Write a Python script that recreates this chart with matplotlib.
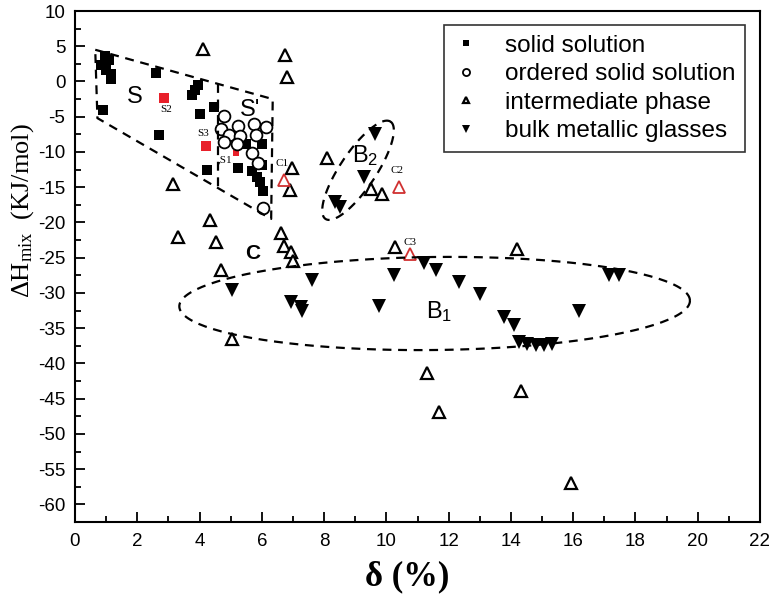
import numpy as np
import matplotlib
matplotlib.use("Agg")
import matplotlib.pyplot as plt

plt.rcParams['font.family'] = ['Liberation Sans', 'DejaVu Sans']
plt.rcParams['axes.unicode_minus'] = False
plt.rcParams['mathtext.fontset'] = 'custom'
plt.rcParams['mathtext.rm'] = 'Liberation Serif'
plt.rcParams['mathtext.it'] = 'Liberation Serif:italic'
plt.rcParams['mathtext.sf'] = 'Liberation Sans'

# ---- data ----
ss_x = [0.95, 1.1, 0.85, 1.0, 1.15, 1.15, 0.9, 2.6, 2.7, 3.75, 3.85, 3.95, 4.0, 4.45,
        4.25, 5.25, 5.5, 6.0, 5.7, 5.85, 6.0, 5.95, 6.05]
ss_y = [3.6, 3.0, 2.4, 1.7, 1.0, 0.3, -4.1, 1.2, -7.6, -1.9, -1.2, -0.5, -4.6, -3.6,
        -12.5, -12.3, -8.8, -8.8, -12.7, -13.5, -11.9, -14.2, -15.5]
ss_red_x = [2.85, 4.2]
ss_red_y = [-2.3, -9.1]
ss_red_small_x = [5.17]
ss_red_small_y = [-10.2]

oss_x = [4.8, 5.25, 5.75, 6.15, 4.7, 4.93, 5.3, 4.77, 5.2, 5.8, 5.7, 5.88, 6.05]
oss_y = [-4.9, -6.3, -6.0, -6.4, -6.7, -7.6, -7.8, -8.6, -8.8, -7.6, -10.1, -11.5, -17.9]

im_x = [4.1, 6.75, 6.8, 3.15, 6.97, 6.91, 4.35, 8.1, 9.5, 9.86, 3.3, 4.53, 4.69, 6.6,
        6.7, 6.95, 7.0, 5.05, 10.29, 14.2, 11.3, 14.34, 11.7, 15.94]
im_y = [4.6, 3.8, 0.6, -14.6, -12.3, -15.4, -19.6, -10.8, -15.2, -15.9, -22.0, -22.8,
        -26.8, -21.5, -23.3, -24.2, -25.5, -36.6, -23.5, -23.7, -41.3, -43.9, -46.9, -57.0]
im_red_x = [6.7, 10.4, 10.75]
im_red_y = [-14.0, -14.9, -24.5]

bmg_x = [9.65, 9.27, 8.36, 8.52, 5.05, 6.95, 7.25, 7.3, 7.6, 9.75, 10.24, 11.22, 11.6,
         12.32, 13.02, 13.77, 14.1, 14.25, 14.52, 14.79, 15.06, 15.33, 16.18, 17.15, 17.47]
bmg_y = [-7.4, -13.5, -17.1, -17.8, -29.6, -31.3, -32.0, -32.6, -28.2, -31.8, -27.5,
         -25.7, -26.7, -28.4, -30.1, -33.4, -34.6, -37.0, -37.3, -37.4, -37.4, -37.3,
         -32.5, -27.5, -27.5]

# region outlines
s_poly_x = [0.65, 6.35, 6.3, 0.72, 0.65]
s_poly_y = [4.5, -2.5, -19.5, -5.2, 4.5]
s_inner_x = [4.6, 4.6]
s_inner_y = [-0.35, -15.0]

fig = plt.figure(figsize=(7.73, 6.01), dpi=100)
ax = fig.add_axes([75/773, 1-522/601, 685/773, 511/601])

ms_sq = 7.5
ax.plot(ss_x, ss_y, 's', color='black', ms=ms_sq, mew=0, label='solid solution')
ax.plot(ss_red_x, ss_red_y, 's', color='#e8202a', ms=ms_sq, mew=0)
ax.plot(ss_red_small_x, ss_red_small_y, 's', color='#e8202a', ms=4, mew=0)
ax.plot(oss_x, oss_y, 'o', mfc='white', mec='black', ms=8.5, mew=1.3,
        label='ordered solid solution')
ax.plot(im_x, im_y, '^', mfc='white', mec='black', ms=8, mew=1.6,
        label='intermediate phase')
ax.plot(im_red_x, im_red_y, '^', mfc='white', mec='#d03030', ms=8, mew=1.3)
ax.plot(bmg_x, bmg_y, 'v', color='black', ms=9.5, mew=0, label='bulk metallic glasses')

dash = dict(color='black', lw=1.6, ls=(0, (4, 3)))
ax.plot(s_poly_x, s_poly_y, **dash)
ax.plot(s_inner_x, s_inner_y, **dash)

t = np.linspace(0, 2*np.pi, 200)
# B2 ellipse
c2 = np.array([9.09, -12.6]); u2 = np.array([1.045, 6.9]); v2 = np.array([0.48, -1.42])
ax.plot(c2[0] + u2[0]*np.cos(t) + v2[0]*np.sin(t),
        c2[1] + u2[1]*np.cos(t) + v2[1]*np.sin(t), **dash)
# B1 ellipse
c1 = np.array([11.55, -31.5]); u1 = np.array([8.2, 0.4]); v1 = np.array([0.0, 6.6])
ax.plot(c1[0] + u1[0]*np.cos(t) + v1[0]*np.sin(t),
        c1[1] + u1[1]*np.cos(t) + v1[1]*np.sin(t), **dash)

# labels
big = dict(fontsize=17, ha='center', va='center', family='Liberation Sans')
ax.text(1.93, -2.2, 'S', **big)
ax.text(5.63, -4.1, "S'", **big)
ax.text(5.72, -24.4, 'C', fontsize=15, fontweight='bold', ha='center', va='center')
ax.text(9.32, -10.5, r'B$_{\mathsf{2}}$', **big)
ax.text(11.68, -32.7, r'B$_{\mathsf{1}}$', **big)
small = dict(fontsize=8, ha='center', va='center', family='Liberation Serif')
ax.text(2.93, -4.0, 'S2', **small)
ax.text(4.13, -7.4, 'S3', **small)
ax.text(4.82, -11.1, ',S1', **small)
ax.text(6.65, -11.6, 'C1', **small)
ax.text(10.34, -12.6, 'C2', **small)
ax.text(10.77, -22.8, 'C3', **small)

ax.set_xlim(0, 22)
ax.set_ylim(-62.5, 10)
ax.set_xticks(np.arange(0, 23, 2))
ax.set_xticks(np.arange(1, 22, 2), minor=True)
ax.set_yticks(np.arange(-60, 11, 5))
ax.set_yticks(np.arange(-62.5, 10, 2.5), minor=True)
ax.tick_params(which='both', direction='in', top=False, right=False, labelsize=13.5, width=1.3)
ax.tick_params(which='major', length=7)
ax.tick_params(axis='x', which='major', pad=8)
ax.tick_params(axis='y', which='major', pad=7)
ax.tick_params(which='minor', length=4)
for sp in ax.spines.values():
    sp.set_linewidth(1.5)

ax.set_xlabel('δ (%)', fontsize=25, fontweight='bold', family='Liberation Serif')
ax.set_ylabel(r'$\Delta$H$_{\rm mix}$  (KJ/mol)', fontsize=19, family='Liberation Serif')
ax.yaxis.set_label_coords(-0.057, 0.61)
ax.xaxis.set_label_coords(0.485, -0.075)

leg = ax.legend(loc='upper right', bbox_to_anchor=(745/773, 1-25/601),
                bbox_transform=fig.transFigure, fontsize=17.5, markerscale=0.6,
                frameon=True, fancybox=False, edgecolor='black', handlelength=1.0,
                handletextpad=1.1, borderpad=0.4, labelspacing=0.27, borderaxespad=0)
leg.get_frame().set_linewidth(1.2)

fig.savefig('out.png', dpi=100)
